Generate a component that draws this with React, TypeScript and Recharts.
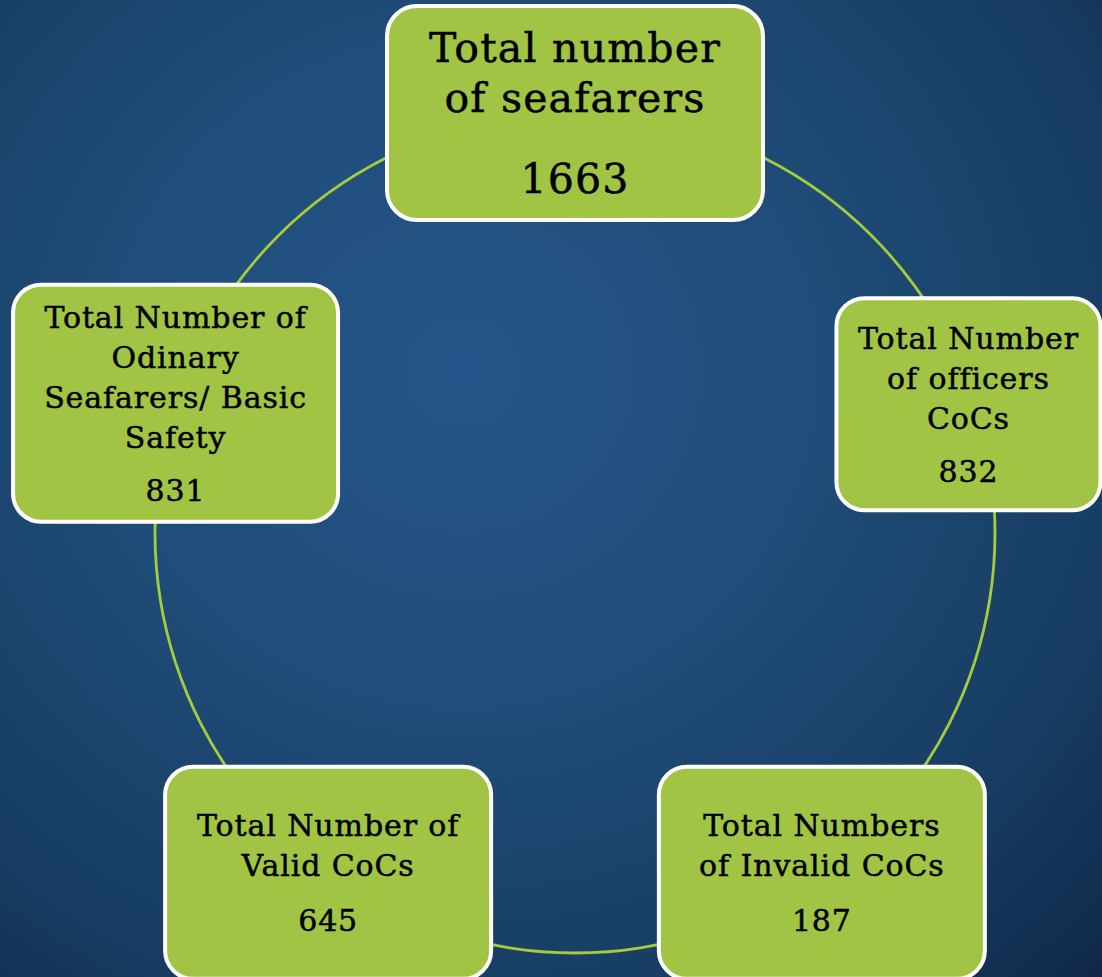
import React from "react";
import { PieChart, Pie } from "recharts";

// boxes clockwise from the top
const titles = [
  ["Total number", "of seafarers"],
  ["Total Number", "of officers", "CoCs"],
  ["Total Numbers", "of Invalid CoCs"],
  ["Total Number of", "Valid CoCs"],
  ["Total Number of", "Odinary", "Seafarers/ Basic", "Safety"],
];
const counts = [1663, 832, 187, 645, 831];

const data = titles.map((lines, i) => ({
  name: lines.join(" "),
  lines,
  count: counts[i],
  slot: 1,
}));

// box look per position (top, right, bottom-right, bottom-left, left)
const boxStyles = [
  { w: 376, h: 214, dx: 0, dy: 0, fontSize: 41, lineHeight: 50, gap: 81, radius: 30 },
  { w: 264, h: 212, dx: -6, dy: 1, fontSize: 30, lineHeight: 40, gap: 53, radius: 28 },
  { w: 326, h: 212, dx: 0, dy: 0, fontSize: 30, lineHeight: 40, gap: 55, radius: 28 },
  { w: 326, h: 212, dx: 0, dy: 0, fontSize: 30, lineHeight: 40, gap: 55, radius: 28 },
  { w: 325, h: 237, dx: 0, dy: 0, fontSize: 30, lineHeight: 40, gap: 53, radius: 28 },
];

const RADIAN = Math.PI / 180;
const GREEN = "#a2c444";

const renderBox = (props: any) => {
  const { cx, cy, midAngle, innerRadius, outerRadius, index, payload } = props;
  const r = (innerRadius + outerRadius) / 2;
  const s = boxStyles[index];
  const x = cx + r * Math.cos(-midAngle * RADIAN) + s.dx;
  const y = cy + r * Math.sin(-midAngle * RADIAN) + s.dy;
  const lines: string[] = payload.lines ?? data[index].lines;
  const n = lines.length;
  const capH = s.fontSize * 0.72;
  const firstBase = y - ((n - 1) * s.lineHeight + s.gap) / 2 + capH / 2;
  return (
    <g key={`box-${index}`}>
      <rect
        x={x - s.w / 2}
        y={y - s.h / 2}
        width={s.w}
        height={s.h}
        rx={s.radius}
        ry={s.radius}
        fill={GREEN}
        stroke="#ffffff"
        strokeWidth={4}
      />
      <text
        textAnchor="middle"
        fontFamily="'DejaVu Serif', serif"
        fontSize={s.fontSize}
        letterSpacing={s.fontSize > 35 ? 1.2 : 0.9}
        fill="#000000"
        stroke="#000000"
        strokeWidth={0.5}
      >
        {lines.map((line, k) => (
          <tspan key={k} x={x} y={firstBase + k * s.lineHeight}>
            {line}
          </tspan>
        ))}
        <tspan x={x} y={firstBase + (n - 1) * s.lineHeight + s.gap}>
          {payload.count ?? data[index].count}
        </tspan>
      </text>
    </g>
  );
};

export default function App() {
  return (
    <div
      style={{
        position: "absolute",
        top: 0,
        left: 0,
        width: 1102,
        height: 977,
        overflow: "hidden",
        background:
          "radial-gradient(ellipse at 42% 38%, #24558a 0%, #1f4c78 40%, #173d62 75%, #10284a 100%)",
      }}
    >
      <PieChart
        width={1102}
        height={977}
        margin={{ top: 0, right: 0, bottom: 0, left: 0 }}
      >
        <Pie
          data={data}
          dataKey="slot"
          nameKey="name"
          cx={575}
          cy={533}
          innerRadius={418.6}
          outerRadius={421.4}
          startAngle={126}
          endAngle={-234}
          fill="#a6cb3c"
          stroke="none"
          label={renderBox}
          labelLine={false}
          isAnimationActive={false}
        />
      </PieChart>
    </div>
  );
}
